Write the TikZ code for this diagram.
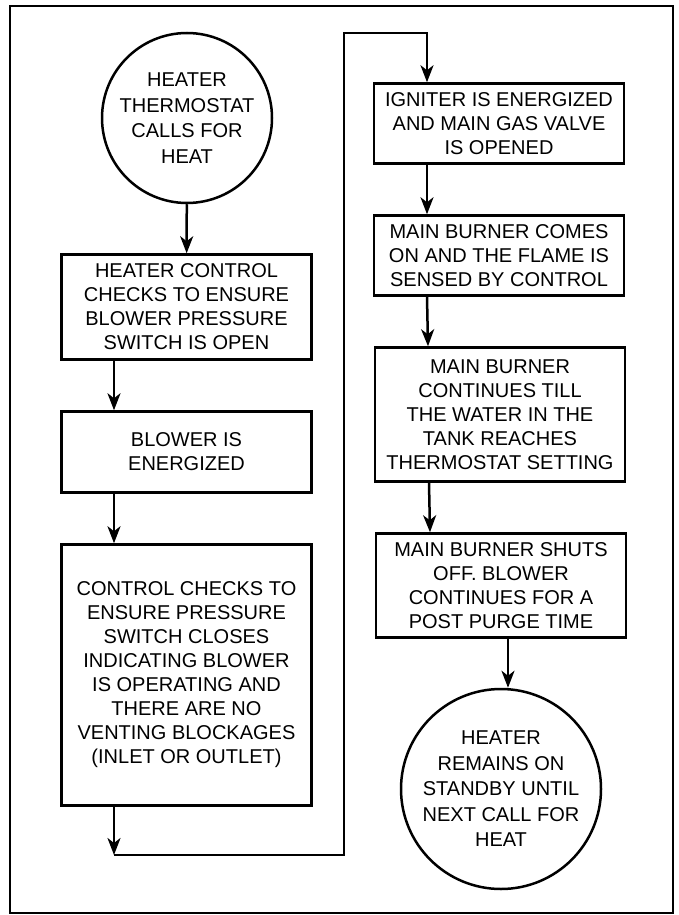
\documentclass[tikz,border=0pt]{standalone}
\usepackage{fontspec}
\setmainfont{Liberation Sans}
\usetikzlibrary{arrows.meta,calc}
\begin{document}
\begin{tikzpicture}[x=1pt,y=-1pt,
  every node/.style={font=\fontsize{20}{24}\selectfont, align=center, inner sep=0pt},
  stepbox/.style={draw, line width=2.5pt, rectangle, minimum width=250pt},
  termcirc/.style={draw, line width=2.5pt, circle, font=\fontsize{20}{25.5}\selectfont},
  arr/.style={line width=2.5pt, -{Stealth[length=17pt,width=13pt,inset=5pt]}},
  ln/.style={line width=2.5pt}]
\useasboundingbox (0,0) rectangle (678,915);
\draw[line width=2pt] (10,6) rectangle (673,913);

\node[termcirc, minimum size=170pt] (c1) at (187,118) {HEATER\\THERMOSTAT\\CALLS FOR\\HEAT};
\node[stepbox, minimum height=105pt] (b1) at (186.5,307) {HEATER CONTROL\\CHECKS TO ENSURE\\BLOWER PRESSURE\\SWITCH IS OPEN};
\node[stepbox, minimum height=81pt] (b2) at (186.5,452) {BLOWER IS\\ENERGIZED};
\node[stepbox, minimum height=261pt] (b3) at (186.5,675) {CONTROL CHECKS TO\\ENSURE PRESSURE\\SWITCH CLOSES\\INDICATING BLOWER\\IS OPERATING AND\\THERE ARE NO\\VENTING BLOCKAGES\\(INLET OR OUTLET)};

\node[stepbox, minimum height=80pt] (b4) at (499,123.5) {IGNITER IS ENERGIZED\\AND MAIN GAS VALVE\\IS OPENED};
\node[stepbox, minimum height=80pt] (b5) at (499,255.5) {MAIN BURNER COMES\\ON AND THE FLAME IS\\SENSED BY CONTROL};
\node[stepbox, minimum height=134pt] (b6) at (500,414.5) {MAIN BURNER\\CONTINUES TILL\\THE WATER IN THE\\TANK REACHES\\THERMOSTAT SETTING};
\node[stepbox, minimum height=104pt] (b7) at (501,585.5) {MAIN BURNER SHUTS\\OFF. BLOWER\\CONTINUES FOR A\\POST PURGE TIME};
\node[termcirc, minimum size=200pt] (c2) at (501,789) {HEATER\\REMAINS ON\\STANDBY UNTIL\\NEXT CALL FOR\\HEAT};

\coordinate (k1) at (114,855);
\coordinate (k2) at (344,855);
\coordinate (k3) at (344,33);
\coordinate (k4) at (427,33);

\draw[arr] (c1) -- (b1);
\draw[arr] ([xshift=-72.5pt]b1.south) -- ([xshift=-72.5pt]b2.north);
\draw[arr] ([xshift=-72.5pt]b2.south) -- ([xshift=-72.5pt]b3.north);
\draw[arr] ([xshift=-72.5pt]b3.south) -- (k1);
\draw[arr] (k1) -- (k2) -- (k3) -- (k4) -- (k4 |- b4.north);
\draw[arr] ([xshift=-72pt]b4.south) -- ([xshift=-72pt]b5.north);
\draw[arr] ([xshift=-72pt]b5.south) -- ([xshift=-72pt]b6.north);
\draw[arr] ([xshift=-71pt]b6.south) -- ([xshift=-71pt]b7.north);
\draw[arr] ([xshift=7pt]b7.south) -- ([xshift=7pt]b7.south |- c2.north);
\end{tikzpicture}
\end{document}
